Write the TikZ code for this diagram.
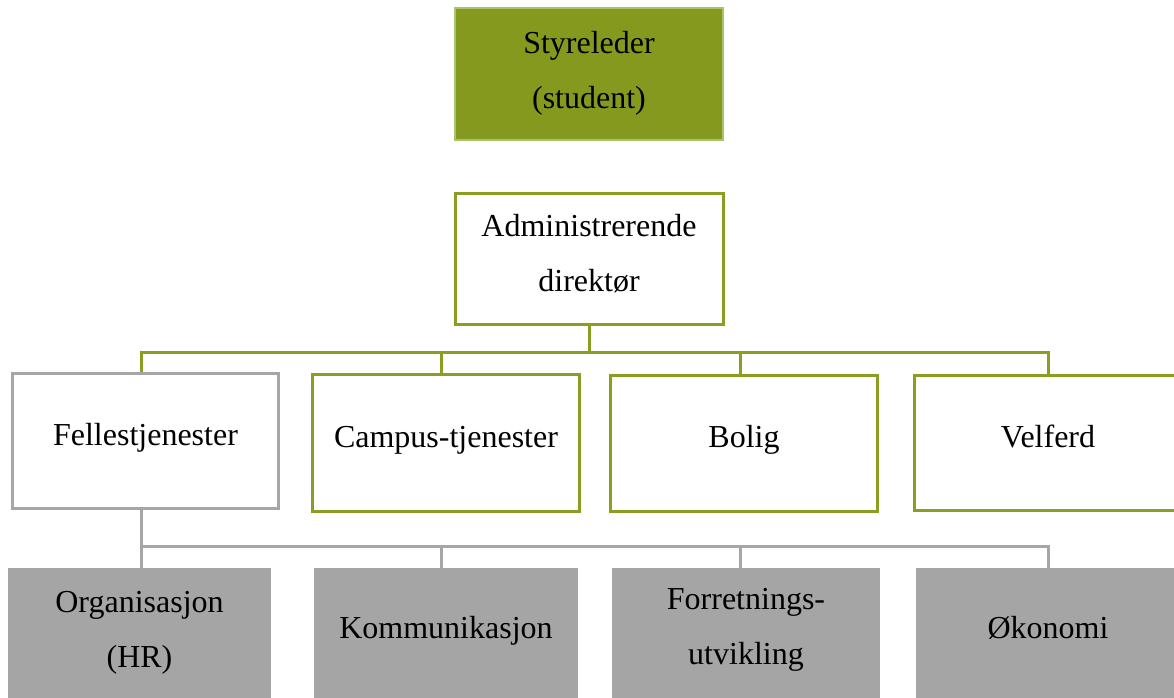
\documentclass[tikz,border=0pt]{standalone}
\usepackage{fontspec}
\setmainfont{Liberation Serif}
\definecolor{oliveG}{HTML}{86991F}
\definecolor{oliveLine}{HTML}{8A9E21}
\definecolor{lightGreen}{HTML}{A9C46C}
\definecolor{grayLine}{HTML}{A6A6A6}
\definecolor{grayFill}{HTML}{A5A5A5}
\begin{document}
\begin{tikzpicture}[x=1pt,y=-1pt,
  box/.style={rectangle, inner sep=0pt, align=center, anchor=center,
    font=\fontsize{32}{55}\selectfont, text=black},
  one/.style={text depth=13pt},
  topbox/.style={box, fill=oliveG, draw=lightGreen, line width=1.2pt},
  greenbox/.style={box, draw=oliveLine, line width=3pt, fill=white},
  graybox/.style={box, draw=grayLine, line width=3pt, fill=white},
  subbox/.style={box, fill=grayFill},
  gcon/.style={draw=oliveLine, line width=3pt},
  pcon/.style={draw=grayLine, line width=3pt}]
\useasboundingbox (0,0) rectangle (1174,697);
\clip (0,0) rectangle (1174,697);

\node[topbox, minimum width=268pt, minimum height=132pt, text depth=9pt] (chair) at (589,74) {Styreleder\\(student)};
\node[greenbox, minimum width=268pt, minimum height=131pt, text depth=12pt] (ceo) at (589,259) {Administrerende\\direktør};

\node[graybox, one, minimum width=266pt, minimum height=135pt] (fell) at (145.5,441) {Fellestjenester};
\node[greenbox, one, minimum width=267pt, minimum height=137pt] (camp) at (446,443) {Campus-tjenester};
\node[greenbox, one, minimum width=267pt, minimum height=136pt] (bolig) at (744,443) {Bolig};
\node[greenbox, one, minimum width=267pt, minimum height=135pt] (velf) at (1048,443) {Velferd};

\node[subbox, minimum width=263pt, minimum height=132pt, text depth=10pt] (org) at (139.5,634) {Organisasjon\\(HR)};
\node[subbox, one, minimum width=264pt, minimum height=132pt] (komm) at (446,634) {Kommunikasjon};
\node[subbox, minimum width=268pt, minimum height=132pt, text depth=15pt] (forr) at (746,634) {Forretnings-\\utvikling};
\node[subbox, one, minimum width=264pt, minimum height=132pt] (oko) at (1048,634) {Økonomi};

% CEO to departments
\draw[gcon] (ceo.south) -- ++(0,26) coordinate (bus1);
\foreach \n/\dx in {fell/-4.5, camp/-5, bolig/-4, velf/0}
  \draw[gcon] ([xshift=\dx pt]\n.north) |- (bus1);

% Fellestjenester to sub units
\draw[pcon] ([xshift=-4.5pt]fell.south) -- ++(0,36) coordinate (bus2);
\foreach \n/\dx in {org/1.5, komm/-5, forr/-6, oko/0}
  \draw[pcon] ([xshift=\dx pt]\n.north) |- (bus2);
\end{tikzpicture}
\end{document}
